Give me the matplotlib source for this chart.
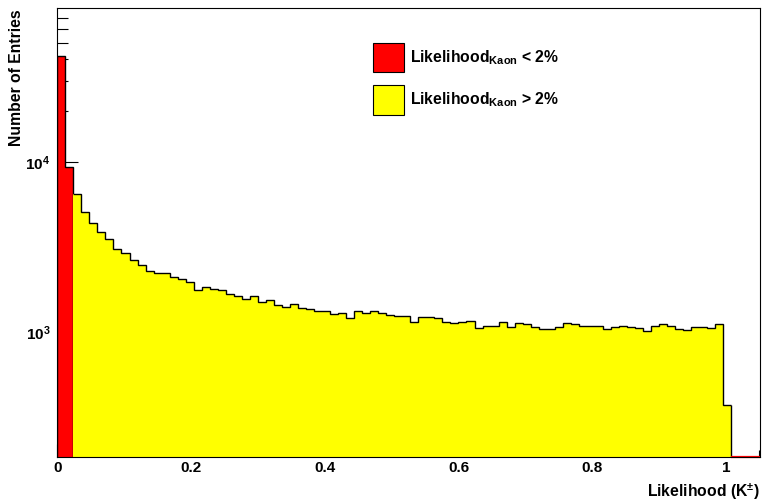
import numpy as np
import matplotlib
matplotlib.use("Agg")
import matplotlib.pyplot as plt
from matplotlib.ticker import MultipleLocator, LogLocator, NullFormatter, FuncFormatter, FixedLocator
from matplotlib.patches import Rectangle

plt.rcParams['font.family'] = ['Liberation Sans', 'DejaVu Sans']
plt.rcParams['font.weight'] = 'bold'
plt.rcParams['mathtext.fontset'] = 'custom'
plt.rcParams['mathtext.rm'] = 'Liberation Sans:bold'
plt.rcParams['mathtext.bf'] = 'Liberation Sans:bold'
plt.rcParams['mathtext.it'] = 'Liberation Sans:bold:italic'
plt.rcParams['mathtext.default'] = 'rm'

# ---- data ----
bin_width = 0.012
n_bins = 84
red_counts = [41800, 9310]
yellow_counts = [
    6470, 5110, 4400, 3870, 3520, 3080, 2930, 2670, 2500, 2300, 2250, 2230, 2130, 2060, 1990, 1780,
    1845, 1795, 1780, 1680, 1650, 1570, 1635, 1520, 1550, 1450, 1420, 1470, 1400, 1382, 1335, 1335,
    1287, 1300, 1224, 1335, 1310, 1335, 1310, 1275, 1247, 1247, 1160, 1240, 1231, 1214, 1151, 1140,
    1151, 1166, 1061, 1094, 1099, 1160, 1084, 1135, 1130, 1076, 1051, 1047, 1080, 1140, 1125, 1090,
    1099, 1094, 1051, 1080, 1099, 1076, 1065, 1023, 1094, 1125, 1099, 1055, 1041, 1084, 1084, 1061, 1130,
    376,
]
x_ticks = [0, 0.2, 0.4, 0.6, 0.8, 1.0]
legend_labels = [r"Likelihood$_{\rm Kaon}$ < 2%", r"Likelihood$_{\rm Kaon}$ > 2%"]
x_title = r"Likelihood (K$^{\pm}$)"
y_title = "Number of Entries"
xlim = (0, 1.051)
ylim = (186, 79500)

edges = np.arange(n_bins + 1) * bin_width
n_red = len(red_counts)
red_edges = edges[:n_red + 1]
yel_edges = edges[n_red:]

W, H = 762, 501
fig = plt.figure(figsize=(W / 100, H / 100), dpi=100)
L, R, T, B = 57.3, 760, 8.3, 457.3
ax = fig.add_axes([L / W, 1 - B / H, (R - L) / W, (B - T) / H])
ax.set_yscale('log')
ax.set_xlim(*xlim)
ax.set_ylim(*ylim)

# red histogram
ax.stairs(red_counts, red_edges, fill=True, baseline=1, facecolor='#ff0000',
          edgecolor='black', linewidth=1.0, zorder=2)
# yellow histogram fill and outline
ax.stairs(yellow_counts, yel_edges, fill=True, baseline=1, facecolor='#ffff00',
          edgecolor='none', linewidth=0, zorder=3)
ax.stairs(yellow_counts, yel_edges, baseline=None, color='black', linewidth=1.0, zorder=4)
ax.vlines(yel_edges[-1], ylim[0], yellow_counts[-1], color='black', linewidth=1.0, zorder=4)
# red empty bins along the bottom
ax.hlines(ylim[0], yel_edges[-1], xlim[1], color='#ff0000', linewidth=1.6, zorder=5, clip_on=False)

for s in ax.spines.values():
    s.set_linewidth(0.8)
    s.set_zorder(6)

ax.xaxis.set_major_locator(FixedLocator(x_ticks))
ax.xaxis.set_minor_locator(MultipleLocator(0.05))
ax.xaxis.set_major_formatter(FuncFormatter(lambda v, p: f"{v:g}"))
ax.yaxis.set_major_locator(LogLocator(base=10))
ax.yaxis.set_minor_locator(LogLocator(base=10, subs=np.arange(2, 10)))
ax.yaxis.set_major_formatter(FuncFormatter(lambda v, p: r"$10^{%d}$" % int(round(np.log10(v)))))
ax.yaxis.set_minor_formatter(NullFormatter())

ax.tick_params(axis='x', which='major', direction='in', length=9.4, width=0.8, labelsize=11, pad=3)
ax.tick_params(axis='x', which='minor', direction='in', length=4.7, width=0.8)
ax.tick_params(axis='y', which='major', direction='in', length=15, width=0.8, labelsize=11, pad=5)
ax.tick_params(axis='y', which='minor', direction='in', length=8, width=0.8)
for lab in ax.get_xticklabels() + ax.get_yticklabels():
    lab.set_fontweight('bold')

def fx(x):
    return x / W

def fy(y):
    return 1 - y / H

fig.text(fx(760), fy(497), x_title, ha='right', va='baseline', fontsize=11.3, fontweight='bold')
fig.text(fx(17), fy(9), y_title, ha='center', va='top', rotation=90, fontsize=11.3, fontweight='bold')

# legend
colors = ['#ff0000', '#ffff00']
box_tops = [42.7, 85.0]
for lbl, c, bt in zip(legend_labels, colors, box_tops):
    fig.add_artist(Rectangle((fx(372.7), fy(bt + 29.8)), (404 - 372.7) / W, 29.8 / H,
                             transform=fig.transFigure, facecolor=c, edgecolor='black', linewidth=0.8))
    fig.text(fx(410), fy(bt + 19.3), lbl, ha='left', va='baseline', fontsize=11.3, fontweight='bold')

fig.savefig("out.png", dpi=100)
